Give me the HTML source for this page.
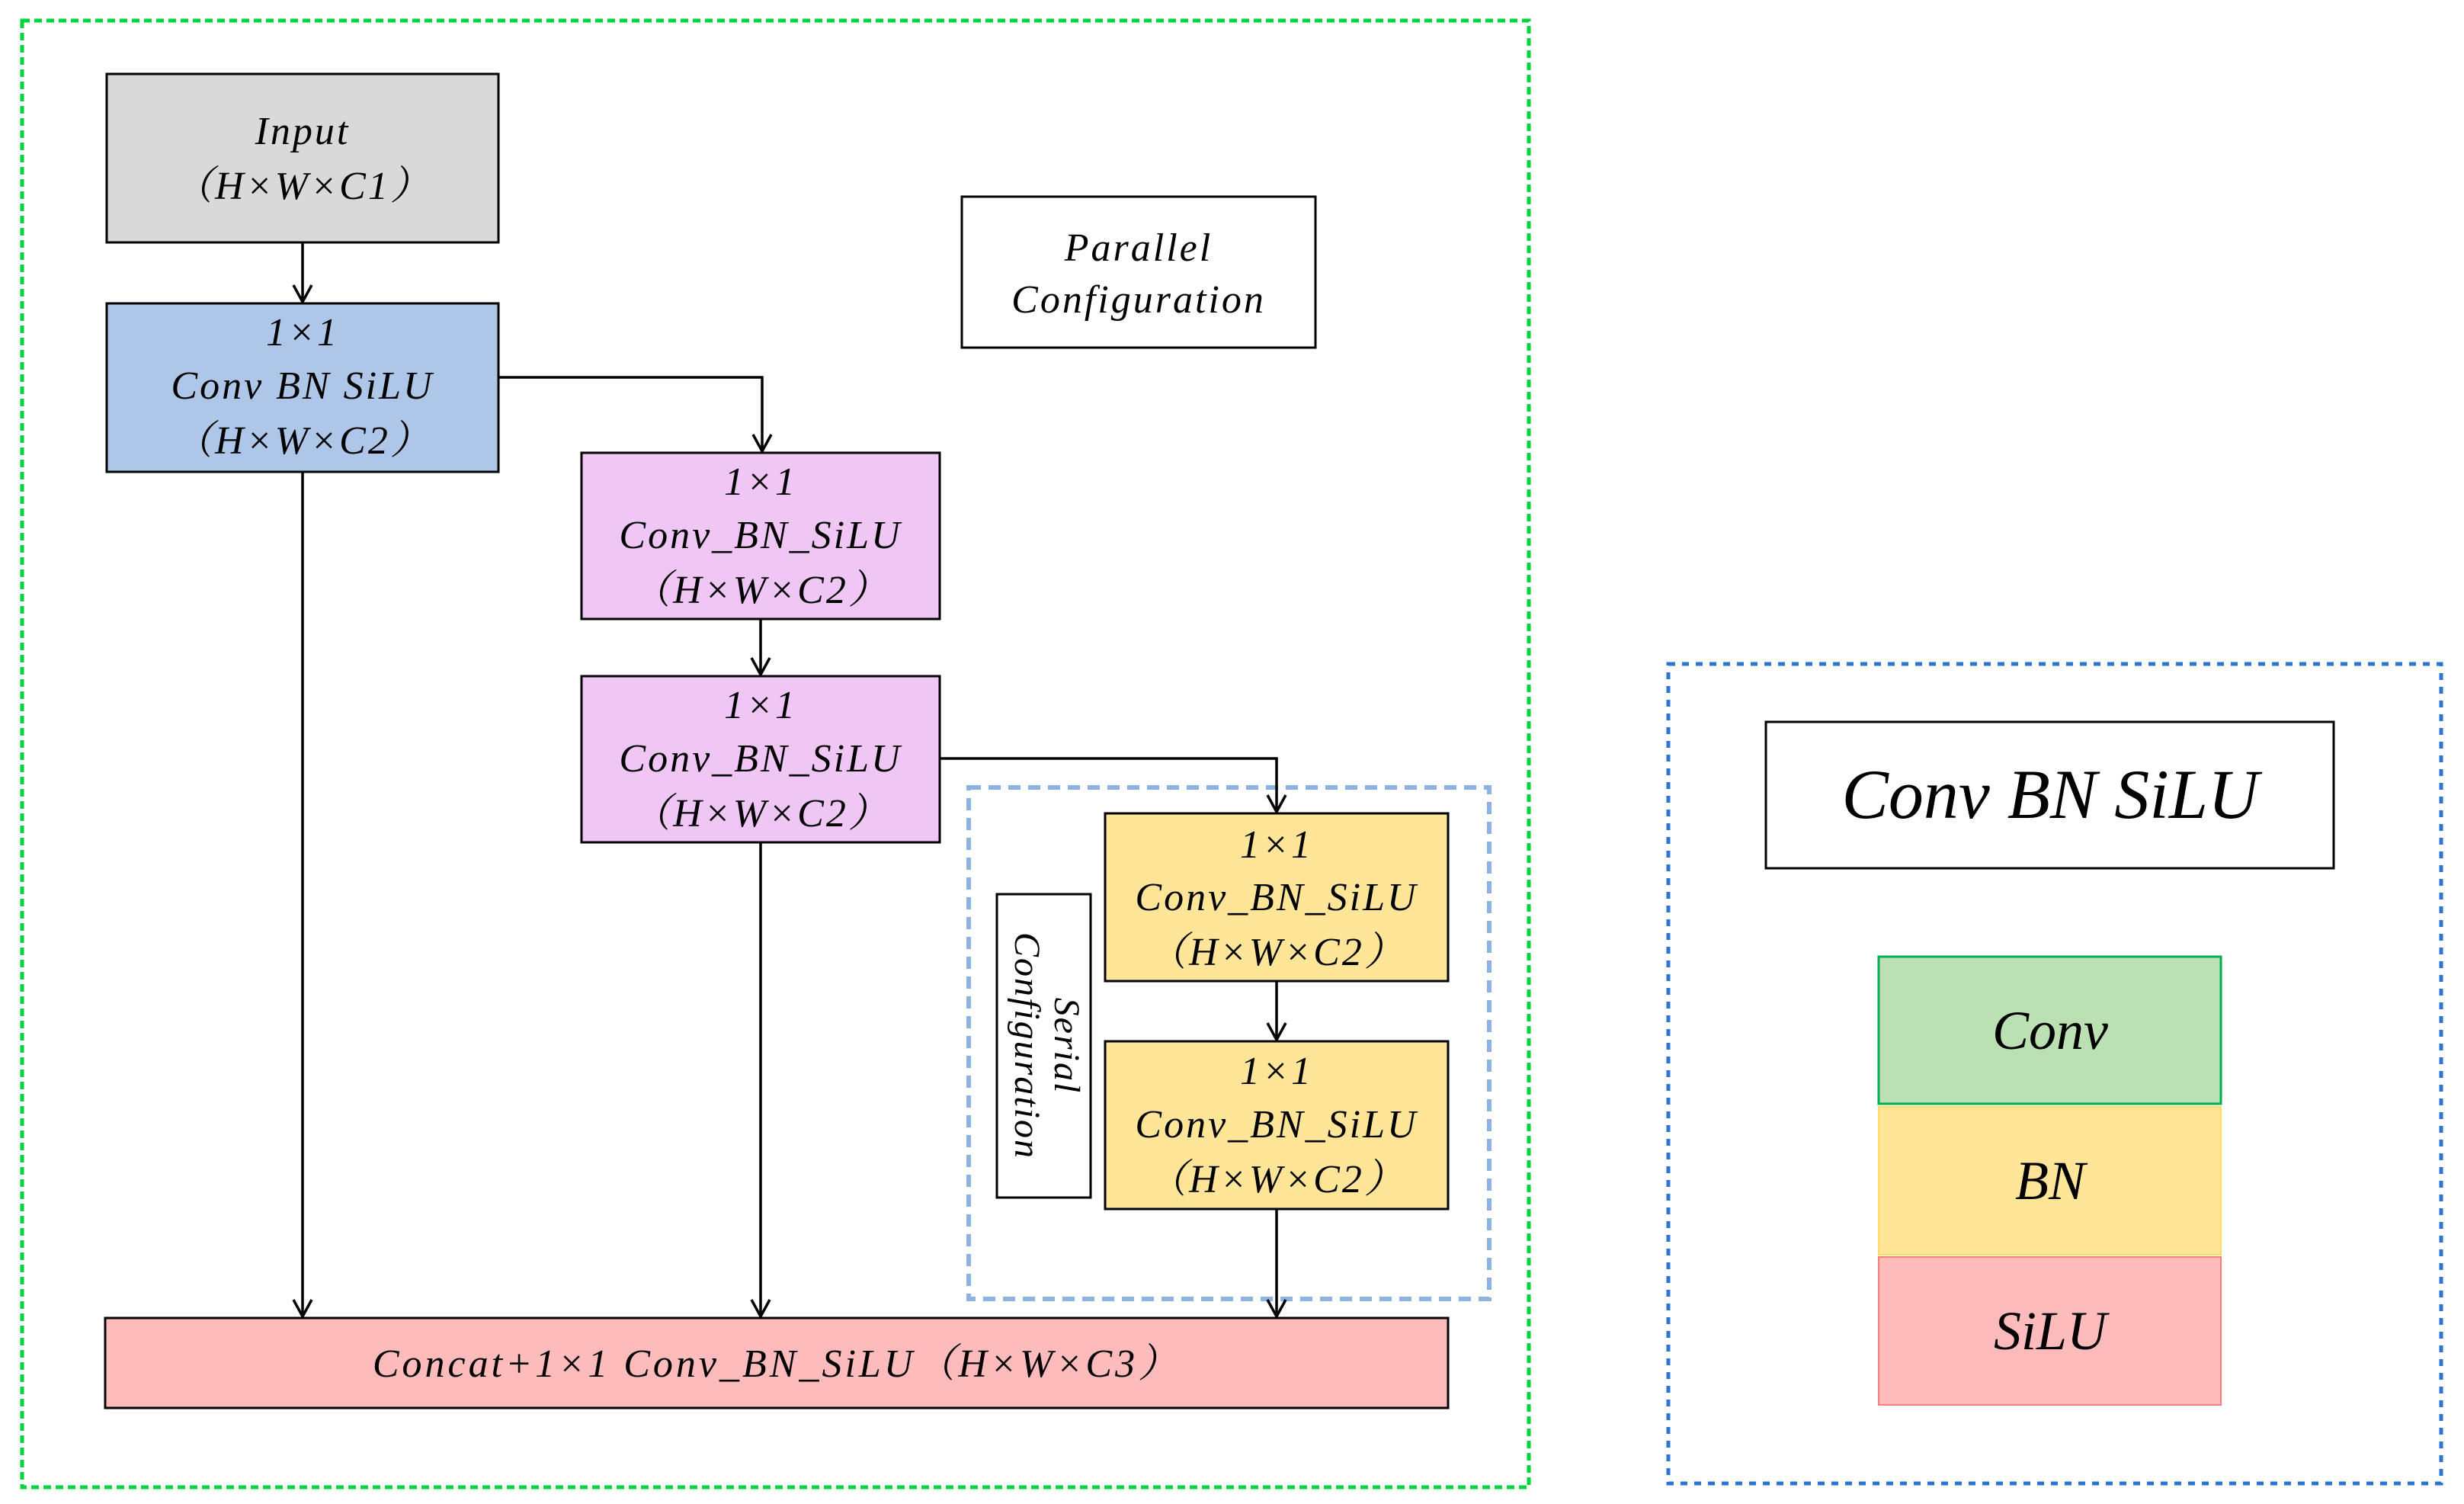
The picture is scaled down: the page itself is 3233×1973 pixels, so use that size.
<!DOCTYPE html>
<html><head><meta charset="utf-8"><style>html,body{margin:0;padding:0;background:#fff}svg{display:block}text{font-family:"Liberation Serif","Noto Serif CJK SC",serif;font-style:italic;fill:#000}</style></head>
<body>
<svg width="3233" height="1973" viewBox="0 0 3233 1973" xmlns="http://www.w3.org/2000/svg">
<rect x="29" y="27" width="1977" height="1924" fill="none" stroke="#00d43a" stroke-width="5" stroke-dasharray="10,6"/>
<rect x="2189" y="871" width="1014" height="1075" fill="none" stroke="#2e75d0" stroke-width="5" stroke-dasharray="9,9"/>
<rect x="1271" y="1033" width="683" height="671" fill="none" stroke="#8db3e2" stroke-width="6" stroke-dasharray="16,10"/>

<g stroke="#000" stroke-width="3">
<rect x="140" y="97" width="514" height="221" fill="#d9d9d9"/>
<rect x="140" y="398" width="514" height="221" fill="#aec7e8"/>
<rect x="763" y="594" width="470" height="218" fill="#f0c6f5"/>
<rect x="763" y="887" width="470" height="218" fill="#f0c6f5"/>
<rect x="1262" y="258" width="464" height="198" fill="#fff"/>
<rect x="1450" y="1067" width="450" height="220" fill="#fee597"/>
<rect x="1450" y="1366" width="450" height="220" fill="#fee597"/>
<rect x="1308" y="1173" width="123" height="398" fill="#fff"/>
<rect x="138" y="1729" width="1762" height="118" fill="#fdbbbb"/>
<rect x="2317" y="947" width="745" height="192" fill="#fff"/>
</g>
<rect x="2465" y="1255" width="449" height="193" fill="#bbe0b3" stroke="#00b04f" stroke-width="3"/>
<rect x="2465" y="1452" width="449" height="194" fill="#fee597" stroke="#ffd966" stroke-width="2"/>
<rect x="2465" y="1649" width="449" height="194" fill="#fdbbbb" stroke="#f08080" stroke-width="2"/>

<g stroke="#000" stroke-width="3.5" fill="none">
<line x1="397" y1="318" x2="397" y2="396"/>
<polyline points="385,374 397,396 409,374"/>
<polyline points="654,495 1000,495 1000,592"/>
<polyline points="988,570 1000,592 1012,570"/>
<line x1="397" y1="619" x2="397" y2="1727"/>
<polyline points="385,1705 397,1727 409,1705"/>
<line x1="998" y1="812" x2="998" y2="885"/>
<polyline points="986,863 998,885 1010,863"/>
<line x1="998" y1="1105" x2="998" y2="1727"/>
<polyline points="986,1705 998,1727 1010,1705"/>
<polyline points="1233,995 1675,995 1675,1065"/>
<polyline points="1663,1043 1675,1065 1687,1043"/>
<line x1="1675" y1="1287" x2="1675" y2="1364"/>
<polyline points="1663,1342 1675,1364 1687,1342"/>
<line x1="1675" y1="1586" x2="1675" y2="1727"/>
<polyline points="1663,1705 1675,1727 1687,1705"/>
</g>

<g font-size="52" text-anchor="middle" letter-spacing="3">
<text x="397" y="189">Input</text>
<text x="397" y="261">（H×W×C1）</text>
<text x="397" y="453">1×1</text>
<text x="397" y="523">Conv BN SiLU</text>
<text x="397" y="595">（H×W×C2）</text>
<text x="998" y="649">1×1</text>
<text x="998" y="719">Conv_BN_SiLU</text>
<text x="998" y="791">（H×W×C2）</text>
<text x="998" y="942">1×1</text>
<text x="998" y="1012">Conv_BN_SiLU</text>
<text x="998" y="1084">（H×W×C2）</text>
<text x="1675" y="1125">1×1</text>
<text x="1675" y="1194">Conv_BN_SiLU</text>
<text x="1675" y="1266">（H×W×C2）</text>
<text x="1675" y="1422">1×1</text>
<text x="1675" y="1492">Conv_BN_SiLU</text>
<text x="1675" y="1564">（H×W×C2）</text>
<text x="1494" y="342">Parallel</text>
<text x="1494" y="410">Configuration</text>
<text x="1019" y="1806" letter-spacing="4">Concat+1×1 Conv_BN_SiLU（H×W×C3）</text>
<g transform="translate(1370,1372) rotate(90)">
<text x="0" y="-14" font-size="48" letter-spacing="2">Serial</text>
<text x="0" y="38" font-size="48" letter-spacing="2">Configuration</text>
</g>
</g>
<text x="2690" y="1073" font-size="92" text-anchor="middle">Conv BN SiLU</text>
<text x="2690" y="1376" font-size="72" text-anchor="middle">Conv</text>
<text x="2690" y="1573" font-size="72" text-anchor="middle">BN</text>
<text x="2690" y="1770" font-size="72" text-anchor="middle">SiLU</text>
</svg>
</body></html>
